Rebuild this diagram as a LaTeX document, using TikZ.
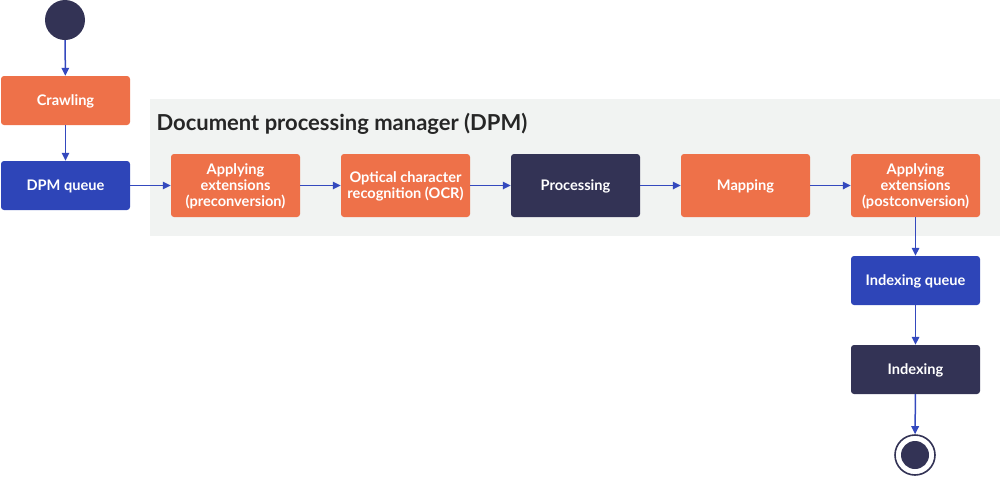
\documentclass[tikz,border=0pt]{standalone}
\usepackage{fontspec}
\setmainfont{Lato}
\usetikzlibrary{arrows.meta,positioning}
\definecolor{orng}{HTML}{EE7149}
\definecolor{blu}{HTML}{2E45B8}
\definecolor{drk}{HTML}{333355}
\definecolor{band}{HTML}{F1F3F2}
\definecolor{arr}{HTML}{3449BE}
\tikzset{
  box/.style={rounded corners=3pt, minimum width=129pt, minimum height=49pt, align=center,
    text=white, font=\bfseries\fontsize{14.6}{16}\selectfont, inner sep=2pt, text depth=0pt},
  tallbox/.style={box, minimum height=63pt},
  obox/.style={fill=orng},
  bbox/.style={fill=blu},
  dbox/.style={fill=drk},
  flow/.style={draw=arr, line width=1.5pt, -{Triangle[length=8pt,width=7.5pt]}},
}
\begin{document}
\begin{tikzpicture}[x=1pt,y=-1pt]
\useasboundingbox (0,0) rectangle (1001,477);
\fill[band] (150,99) rectangle (1000,236);
\node[anchor=west, font=\bfseries\fontsize{22}{24}\selectfont, text=black!85] (title) at (153,124) {Document processing manager (DPM)};
\node[circle, fill=drk, minimum size=40pt, inner sep=0pt] (start) at (65,20) {};
\node[box, obox] (crawl) at (65.5,100.5) {Crawling};
\node[box, bbox] (dpmq) at (65.5,185.5) {DPM queue};
\node[tallbox, obox] (pre) at (235.5,185.5) {Applying\\extensions\\(preconversion)};
\node[tallbox, obox] (ocr) at (405.5,185.5) {Optical character\\recognition (OCR)};
\node[tallbox, dbox] (proc) at (575.5,185.5) {Processing};
\node[tallbox, obox] (map) at (745.5,185.5) {Mapping};
\node[tallbox, obox] (post) at (915.5,185.5) {Applying\\extensions\\(postconversion)};
\node[box, bbox] (idxq) at (915.5,280.5) {Indexing queue};
\node[box, dbox] (idx) at (915.5,369.5) {Indexing};
\node[circle, draw=drk, line width=1.6pt, fill=white, minimum size=40pt, inner sep=0pt] (end) at (915,455) {};
\node[circle, fill=drk, minimum size=28pt, inner sep=0pt] at (end) {};
\draw[flow] (start) -- (crawl);
\draw[flow] (crawl) -- (dpmq);
\draw[flow] (dpmq) -- (pre);
\draw[flow] (pre) -- (ocr);
\draw[flow] (ocr) -- (proc);
\draw[flow] (proc) -- (map);
\draw[flow] (map) -- (post);
\draw[flow] (post) -- (idxq);
\draw[flow] (idxq) -- (idx);
\draw[flow] (idx) -- (end);
\end{tikzpicture}
\end{document}
